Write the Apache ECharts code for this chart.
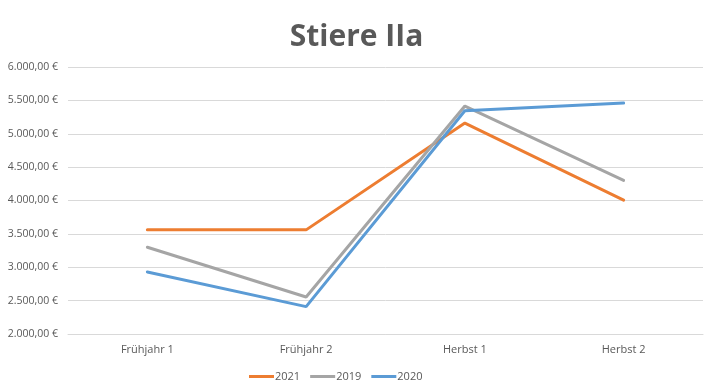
<!DOCTYPE html>
<html><head><meta charset="utf-8">
<script src="https://cdn.jsdelivr.net/npm/echarts@6/dist/echarts.min.js"></script>
<style>html,body{margin:0;padding:0;background:#fff}#c{width:713px;height:390px}</style>
</head><body><div id="c"></div>
<script>
const title = "Stiere IIa";
const categories = ["Frühjahr 1", "Frühjahr 2", "Herbst 1", "Herbst 2"];
const seriesNames = ["2021", "2019", "2020"];
const values2021 = [3560, 3560, 5160, 4005];
const values2019 = [3300, 2555, 5415, 4300];
const values2020 = [2930, 2410, 5345, 5460];
const colors = ["#ED7D31", "#A5A5A5", "#5B9BD5"];

function fmt(v) {
  const s = Math.round(v).toString().replace(/\B(?=(\d{3})+(?!\d))/g, ".");
  return s + ",00 €";
}
const chart = echarts.init(document.getElementById('c'));
const data = [values2021, values2019, values2020];
chart.setOption({
  animation: false,
  title: { text: title, left: 'center', top: 17,
    textStyle: { fontFamily: 'Open Sans', fontWeight: 'bold', fontSize: 30, color: '#595959' } },
  grid: { left: 68, right: 10, top: 67, bottom: 56, containLabel: false },
  legend: { bottom: 3, left: 244, itemWidth: 25, itemHeight: 3, itemGap: 10, icon: 'rect',
    data: seriesNames,
    textStyle: { fontFamily: 'Open Sans', fontSize: 11, color: '#595959', padding: [0,0,0,-4] } },
  xAxis: { type: 'category', data: categories, boundaryGap: true,
    axisLine: { lineStyle: { color: '#d9d9d9' } }, axisTick: { show: false },
    axisLabel: { fontFamily: 'Open Sans', fontSize: 11, color: '#595959', margin: 10 } },
  yAxis: { type: 'value', min: 2000, max: 6000, interval: 500,
    axisLine: { show: false }, axisTick: { show: false },
    splitLine: { lineStyle: { color: '#d9d9d9' } },
    axisLabel: { fontFamily: 'Open Sans', fontSize: 10.5, color: '#595959', margin: 10, formatter: fmt } },
  series: seriesNames.map((n, i) => ({
    name: n, type: 'line', data: data[i], symbol: 'none',
    lineStyle: { width: 3, color: colors[i], cap: 'round' },
    itemStyle: { color: colors[i] }
  }))
});
</script></body></html>
